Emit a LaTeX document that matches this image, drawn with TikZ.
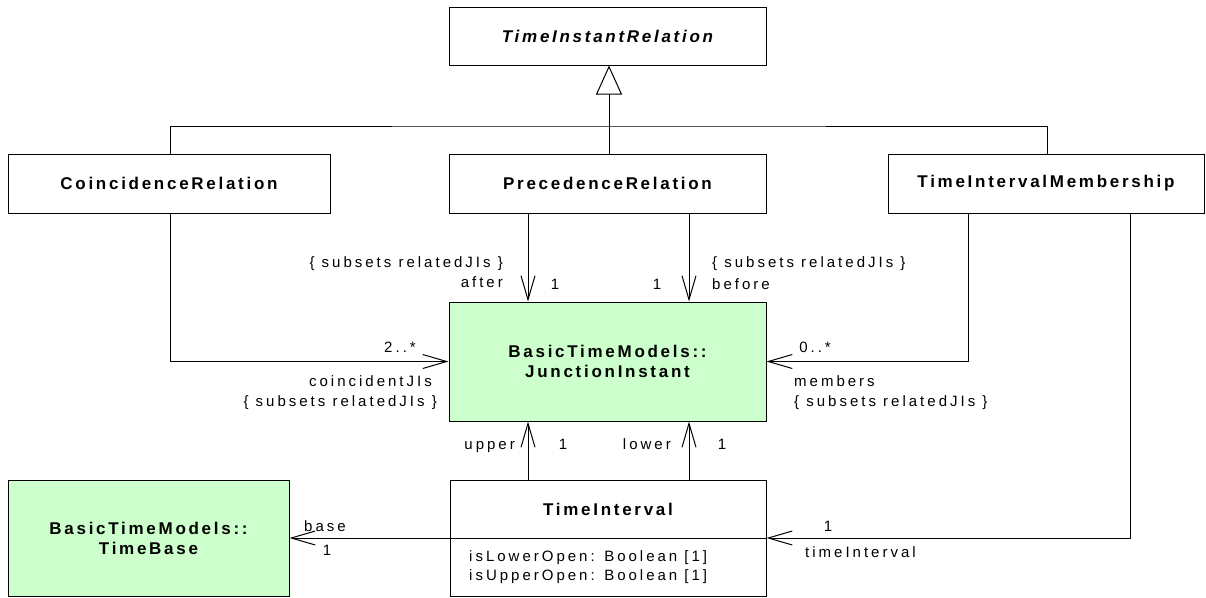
\documentclass[tikz,border=0pt]{standalone}
\usepackage{fontspec}
\setmainfont{Liberation Sans}
\newfontfamily\lblfont[LetterSpace=20]{Liberation Sans}
\newfontfamily\ttlfont[LetterSpace=16]{Liberation Sans}
\usetikzlibrary{arrows.meta}
\definecolor{jgreen}{RGB}{204,255,204}
\begin{document}
\begin{tikzpicture}[x=1pt,y=-1pt,
  box/.style={draw=black, line width=1pt, fill=white, inner sep=0pt, align=center,
    font=\ttlfont\bfseries\fontsize{17}{20}\selectfont},
  gbox/.style={box, fill=jgreen},
  lbl/.style={font=\lblfont\fontsize{15}{20}\selectfont, inner sep=0pt, text height=11pt, text depth=3pt},
  assoc/.style={line width=1pt, -{Straight Barb[length=24pt,width=14pt]}},
  gen/.style={line width=1pt, -{Triangle[open,length=29pt,width=26pt,fill=white]}},
  plain/.style={line width=1pt}
]
\useasboundingbox (0,0) rectangle (1206,597);
% boxes
\node[box, minimum width=317pt, minimum height=58pt] (tir) at (607.5,36) {\itshape TimeInstantRelation};
\node[box, minimum width=322pt, minimum height=59pt] (coin) at (169,183.5) {CoincidenceRelation};
\node[box, minimum width=317pt, minimum height=59pt] (prec) at (607.5,183.5) {PrecedenceRelation};
\node[box, minimum width=316pt, minimum height=59pt] (tim) at (1046,183.5) {TimeIntervalMembership};
\node[gbox, minimum width=317pt, minimum height=119pt] (ji) at (607.5,361.5) {BasicTimeModels::\\JunctionInstant};
\node[box, minimum width=316pt, minimum height=116pt] (ti) at (608,538) {};
\node[gbox, minimum width=281pt, minimum height=116pt] (tb) at (148.5,538) {BasicTimeModels::\\TimeBase};
\draw[plain] (ti.west) -- (ti.east);
\node[box, draw=none, fill=none] (tiname) at (608,509) {TimeInterval};
\node[lbl, anchor=west] (attr1) at (469,557) {isLowerOpen: Boolean [1]};
\node[lbl, anchor=west] (attr2) at (469,576) {isUpperOpen: Boolean [1]};
% helper coordinates
\coordinate (bar) at (609,126);
\coordinate (xg) at (609,0);
\coordinate (xa) at (528,0);
\coordinate (xb) at (689,0);
\coordinate (xc) at (968,0);
\coordinate (xd) at (1130,0);
% generalization
\draw[plain] (coin.north -| 170,0) |- (bar) -| (tim.north -| 1047,0);
\draw[gen] (prec.north -| xg) -- (tir.south -| xg);
% associations
\draw[assoc] (prec.south -| xa) -- (ji.north -| xa);
\draw[assoc] (prec.south -| xb) -- (ji.north -| xb);
\draw[assoc] (coin.south -| 170,0) |- (ji.west);
\draw[assoc] (tim.south -| xc) |- (ji.east);
\draw[assoc] (tim.south -| xd) |- (ti.east);
\draw[assoc] (ti.north -| xa) -- (ji.south -| xa);
\draw[assoc] (ti.north -| xb) -- (ji.south -| xb);
\draw[assoc] (ti.west) -- (tb.east);
% labels
\node[lbl, anchor=east] (l1) at (503,263) {\{ subsets relatedJIs \}};
\node[lbl, anchor=east] (l2) at (503,283) {after};
\node[lbl] (l3) at (555,285) {1};
\node[lbl] (l4) at (657,285) {1};
\node[lbl, anchor=west] (l5) at (712,263) {\{ subsets relatedJIs \}};
\node[lbl, anchor=west] (l6) at (712,285) {before};
\node[lbl] (l7) at (400,348) {2..*};
\node[lbl, anchor=east] (l8) at (432,382) {coincidentJIs};
\node[lbl, anchor=east] (l9) at (437,402) {\{ subsets relatedJIs \}};
\node[lbl] (l10) at (815,348) {0..*};
\node[lbl, anchor=west] (l11) at (794,382) {members};
\node[lbl, anchor=west] (l12) at (794,402) {\{ subsets relatedJIs \}};
\node[lbl, anchor=east] (l13) at (515,445) {upper};
\node[lbl] (l14) at (563,445) {1};
\node[lbl, anchor=east] (l15) at (671,445) {lower};
\node[lbl] (l16) at (722,445) {1};
\node[lbl, anchor=west] (l17) at (304,527) {base};
\node[lbl] (l18) at (327,551) {1};
\node[lbl] (l19) at (828,527) {1};
\node[lbl, anchor=west] (l20) at (805,553) {timeInterval};
\end{tikzpicture}
\end{document}
